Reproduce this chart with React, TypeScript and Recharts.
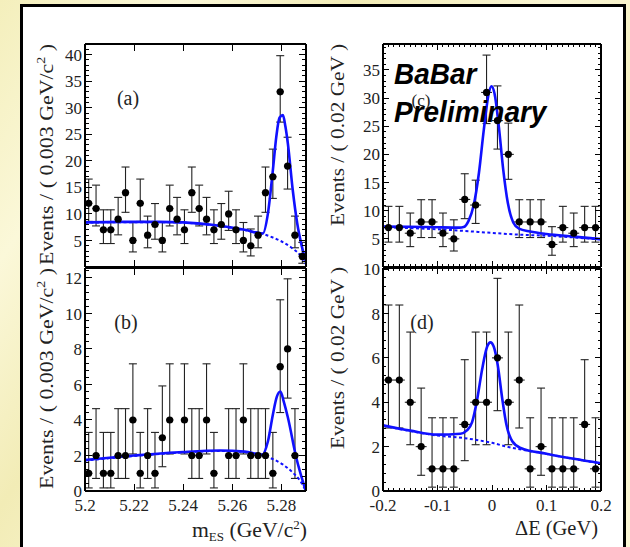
import React from "react";
import { ComposedChart, XAxis, YAxis, Line, Scatter, ErrorBar } from "recharts";

const SERIF = "'Liberation Serif', 'Times New Roman', serif";
const SANS = "'Liberation Sans', Arial, sans-serif";
const BLUE = "#1010ff";

// bin grids
const MES_START = 5.2015;
const MES_STEP = 0.003;
const DE_START = -0.19;
const DE_STEP = 0.02;

// events per bin
const countsA = [12, 11, 7, 7, 9, 14, 5, 12, 6, 8, 5, 11, 9, 7, 14, 11, 9, 7, 8, 10, 7, 5, 4, 6, 14, 17, 33, 19, 6, 2];
const countsB = [1, 2, 1, 1, 2, 2, 4, 1, 2, 1, 3, 4, 0, 4, 2, 2, 4, 1, 0, 2, 2, 4, 2, 2, 2, 1, 7, 8, 2, 0];
const countsC = [7, 7, 6, 8, 8, 6, 5, 12, 11, 31, 26, 20, 8, 8, 8, 4, 7, 6, 7, 7];
const countsD = [5, 5, 4, 2, 1, 1, 1, 3, 4, 4, 6, 4, 5, 1, 2, 1, 1, 1, 3, 1];

// 68% poisson intervals (as drawn by RooFit), looked up by count
const poisN = [1, 2, 3, 4, 5, 6, 7, 8, 9, 10, 11, 12, 14, 17, 19, 20, 26, 31, 33];
const poisLo = [0.173, 0.708, 1.367, 2.086, 2.84, 3.62, 4.419, 5.232, 6.057, 6.891, 7.734, 8.585, 10.3, 12.92, 14.68, 15.57, 20.94, 25.47, 27.29];
const poisHi = [3.3, 4.638, 5.918, 7.163, 8.382, 9.584, 10.77, 11.95, 13.11, 14.27, 15.42, 16.56, 18.83, 22.2, 24.44, 25.55, 32.16, 37.63, 39.8];

// fit curves (total = solid, background = dashed)
const aTotX = [5.2, 5.215, 5.23, 5.24, 5.2525, 5.265, 5.2724, 5.2745, 5.2765, 5.2779, 5.2792, 5.2806, 5.2816, 5.2826, 5.2846, 5.2864, 5.288, 5.2898];
const aTotY = [8.4, 8.5, 8.5, 8.4, 7.9, 7.0, 6.3, 10.1, 18.2, 24.5, 28.1, 28.6, 26.5, 23.3, 14.5, 8.3, 4.5, 1.2];
const aBkgX = [5.2, 5.215, 5.23, 5.24, 5.2525, 5.265, 5.2724, 5.2765, 5.2805, 5.2845, 5.2875, 5.2898];
const aBkgY = [8.35, 8.45, 8.45, 8.35, 7.85, 6.95, 6.25, 5.55, 4.7, 3.5, 2.3, 0.6];

const bTotX = [5.2, 5.22, 5.24, 5.255, 5.265, 5.2722, 5.2745, 5.2765, 5.2781, 5.2796, 5.281, 5.2826, 5.286, 5.2898];
const bTotY = [1.75, 2.0, 2.2, 2.28, 2.22, 2.05, 2.8, 4.3, 5.3, 5.6, 5.0, 4.15, 1.9, 0.05];
const bBkgX = [5.2, 5.22, 5.24, 5.255, 5.265, 5.2722, 5.2765, 5.2805, 5.2845, 5.2875, 5.2898];
const bBkgY = [1.72, 1.97, 2.17, 2.25, 2.19, 2.0, 1.8, 1.5, 1.05, 0.6, 0.05];

const cTotX = [-0.2, -0.15, -0.1, -0.06, -0.052, -0.043, -0.0335, -0.024, -0.015, -0.006, -0.001, 0.0046, 0.0126, 0.0206, 0.029, 0.039, 0.0495, 0.07, 0.1, 0.15, 0.2];
const cTotY = [7.2, 7.15, 7.05, 7.0, 7.1, 8.2, 11.0, 16.7, 24.4, 30.8, 32.1, 30.8, 24.9, 17.3, 11.4, 7.9, 6.8, 6.3, 5.85, 5.4, 4.95];
const cBkgX = [-0.2, -0.1, -0.05, 0, 0.05, 0.1, 0.15, 0.2];
const cBkgY = [7.05, 6.7, 6.4, 6.05, 5.75, 5.55, 5.25, 4.9];

const dTotX = [-0.2, -0.15, -0.1, -0.058, -0.046, -0.0365, -0.027, -0.018, -0.009, -0.0028, 0.0033, 0.0107, 0.0188, 0.0267, 0.0372, 0.0525, 0.1, 0.15, 0.2];
const dTotY = [2.96, 2.72, 2.54, 2.58, 2.73, 3.1, 4.16, 5.5, 6.5, 6.7, 6.5, 5.65, 4.16, 2.96, 2.24, 1.94, 1.68, 1.45, 1.25];
const dBkgX = [-0.2, -0.15, -0.1, -0.05, 0, 0.03, 0.065, 0.1, 0.15, 0.2];
const dBkgY = [2.95, 2.7, 2.5, 2.38, 2.17, 1.98, 1.82, 1.67, 1.45, 1.24];

// axis ticks
const mesMajor = [5.2, 5.22, 5.24, 5.26, 5.28];
const deMajor = [-0.2, -0.1, 0, 0.1, 0.2];
const yMajorA = [5, 10, 15, 20, 25, 30, 35, 40];
const yMajorB = [0, 2, 4, 6, 8, 10, 12];
const yMajorC = [5, 10, 15, 20, 25, 30, 35];
const yMajorD = [0, 2, 4, 6, 8, 10];

type Pt = { x: number; y: number; ey: number[]; ex: number };
type CPt = { x: number; y: number };

const steps = (from: number, to: number, step: number) => {
  const out: number[] = [];
  for (let v = from; v <= to + 1e-9; v += step) out.push(+v.toFixed(4));
  return out;
};

const toPoints = (counts: number[], start: number, step: number): Pt[] =>
  counts.flatMap((n, i) => {
    if (n === 0) return [];
    const k = poisN.indexOf(n);
    return [{ x: +(start + step * i).toFixed(4), y: n, ey: [n - poisLo[k], poisHi[k] - n], ex: step / 2 }];
  });

const zip = (xs: number[], ys: number[]): CPt[] => xs.map((x, i) => ({ x, y: ys[i] }));

const near = (arr: number[], v: number) => arr.some((m) => Math.abs(m - v) < 1e-7);

type Side = "left" | "right" | "top" | "bottom";

function makeTick(side: Side, majors: number[], labels: number[], fmt: (v: number) => string, majLen: number, minLen: number) {
  return (props: any) => {
    const { x, y, payload } = props;
    const v = payload.value;
    const len = near(majors, v) ? majLen : minLen;
    let x2 = x;
    let y2 = y;
    if (side === "left") x2 = x + len;
    if (side === "right") x2 = x - len;
    if (side === "bottom") y2 = y - len;
    if (side === "top") y2 = y + len;
    const show = near(labels, v);
    return (
      <g>
        <line x1={x} y1={y} x2={x2} y2={y2} stroke="#000" strokeWidth={1} shapeRendering="crispEdges" />
        {show && side === "left" && (
          <text x={x - 3} y={y} dy="0.36em" textAnchor="end" fontSize={17} fill="#222" fontFamily={SERIF}>
            {fmt(v)}
          </text>
        )}
        {show && side === "bottom" && (
          <text x={x} y={y + 20} textAnchor="middle" fontSize={17} fill="#222" fontFamily={SERIF}>
            {fmt(v)}
          </text>
        )}
      </g>
    );
  };
}

const Dot = (p: any) => <circle cx={p.cx} cy={p.cy} r={3.6} fill="#000" />;

type PanelProps = {
  left: number;
  top: number;
  w: number;
  h: number;
  xDomain: [number, number];
  yDomain: [number, number];
  xMajor: number[];
  xMinor: number[];
  yMajor: number[];
  yMinor: number[];
  xLabels: number[];
  yLabels: number[];
  xFmt: (v: number) => string;
  points: Pt[];
  total: CPt[];
  bkg: CPt[];
  majLen: number;
  minLen: number;
};

function Panel(p: PanelProps) {
  // outer space around the plot box; each axis takes 1px of it
  const ML = 50, MT = 10, MR = 12, MB = 40;
  const xTicks = [...p.xMajor, ...p.xMinor];
  const yTicks = [...p.yMajor, ...p.yMinor];
  const yFmt = (v: number) => String(v);
  const axisCommon = {
    type: "number" as const,
    allowDataOverflow: true,
    interval: 0 as const,
    tickSize: 0,
    tickMargin: 0,
    tickLine: false,
    axisLine: { stroke: "#000", strokeWidth: 1.3, shapeRendering: "crispEdges" },
  };
  return (
    <div style={{ position: "absolute", left: p.left - ML, top: p.top - MT }}>
      <ComposedChart
        width={p.w + ML + MR}
        height={p.h + MT + MB}
        margin={{ top: MT - 1, right: MR - 1, bottom: MB - 1, left: ML - 1 }}
      >
        <XAxis {...axisCommon} xAxisId="b" orientation="bottom" dataKey="x" domain={p.xDomain} ticks={xTicks} height={1}
          tick={makeTick("bottom", p.xMajor, p.xLabels, p.xFmt, p.majLen, p.minLen)} />
        <XAxis {...axisCommon} xAxisId="t" orientation="top" dataKey="x" domain={p.xDomain} ticks={xTicks} height={1}
          tick={makeTick("top", p.xMajor, [], p.xFmt, p.majLen, p.minLen)} />
        <YAxis {...axisCommon} yAxisId="l" orientation="left" dataKey="y" domain={p.yDomain} ticks={yTicks} width={1}
          tick={makeTick("left", p.yMajor, p.yLabels, yFmt, p.majLen, p.minLen)} />
        <YAxis {...axisCommon} yAxisId="r" orientation="right" dataKey="y" domain={p.yDomain} ticks={yTicks} width={1}
          tick={makeTick("right", p.yMajor, [], yFmt, p.majLen, p.minLen)} />
        <Scatter xAxisId="b" yAxisId="l" data={p.points} shape={Dot} isAnimationActive={false}>
          <ErrorBar dataKey="ey" direction="y" width={4} stroke="#222" strokeWidth={1.1} />
          <ErrorBar dataKey="ex" direction="x" width={0} stroke="#222" strokeWidth={1.1} />
        </Scatter>
        <Line xAxisId="b" yAxisId="l" data={p.bkg} dataKey="y" type="monotone" stroke={BLUE} strokeWidth={2}
          strokeDasharray="3 2.5" dot={false} activeDot={false} isAnimationActive={false} />
        <Line xAxisId="b" yAxisId="l" data={p.total} dataKey="y" type="monotone" stroke={BLUE} strokeWidth={2.6}
          dot={false} activeDot={false} isAnimationActive={false} />
      </ComposedChart>
    </div>
  );
}

const mesFmt = (v: number) => String(v);
const deFmt = (v: number) => String(v);

export default function App() {
  const mesMinor: number[] = [];
  const deMinor = steps(-0.2, 0.2, 0.01).filter((v) => !near(deMajor, v));
  const minorA = steps(0, 42, 1).filter((v) => !near(yMajorA, v));
  const minorB = steps(0, 12.4, 0.4).filter((v) => !near(yMajorB, v));
  const minorC = steps(0, 39, 1).filter((v) => !near(yMajorC, v));
  const minorD = steps(0, 10, 0.4).filter((v) => !near(yMajorD, v));

  return (
    <div
      style={{
        position: "absolute",
        left: 0,
        top: 0,
        width: 630,
        height: 547,
        overflow: "hidden",
        background:
          "linear-gradient(125deg, #f4efbc 0%, #fbf8d9 18%, #f2ecb6 35%, #faf6d4 55%, #f3edb9 75%, #fbf7d6 100%)",
      }}
    >
      <div
        style={{
          position: "absolute",
          left: 20,
          top: 4,
          width: 600,
          height: 560,
          background: "#fff",
          border: "3px solid #000",
        }}
      />
      <Panel left={85} top={44} w={221} h={223} xDomain={[5.2, 5.29]} yDomain={[0, 42]}
        xMajor={mesMajor} xMinor={mesMinor} yMajor={yMajorA} yMinor={minorA} xLabels={[]} yLabels={yMajorA}
        xFmt={mesFmt} points={toPoints(countsA, MES_START, MES_STEP)} total={zip(aTotX, aTotY)} bkg={zip(aBkgX, aBkgY)}
        majLen={7} minLen={4} />
      <Panel left={85} top={268} w={221} h={223} xDomain={[5.2, 5.29]} yDomain={[0, 12.56]}
        xMajor={mesMajor} xMinor={mesMinor} yMajor={yMajorB} yMinor={minorB} xLabels={mesMajor} yLabels={yMajorB}
        xFmt={mesFmt} points={toPoints(countsB, MES_START, MES_STEP)} total={zip(bTotX, bTotY)} bkg={zip(bBkgX, bBkgY)}
        majLen={7} minLen={4} />
      <Panel left={383} top={44} w={218} h={223} xDomain={[-0.2, 0.2]} yDomain={[0, 39.6]}
        xMajor={deMajor} xMinor={deMinor} yMajor={yMajorC} yMinor={minorC} xLabels={[]} yLabels={yMajorC}
        xFmt={deFmt} points={toPoints(countsC, DE_START, DE_STEP)} total={zip(cTotX, cTotY)} bkg={zip(cBkgX, cBkgY)}
        majLen={6} minLen={3} />
      <Panel left={383} top={268} w={218} h={223} xDomain={[-0.2, 0.2]} yDomain={[0, 10.05]}
        xMajor={deMajor} xMinor={deMinor} yMajor={yMajorD} yMinor={minorD} xLabels={deMajor} yLabels={yMajorD}
        xFmt={deFmt} points={toPoints(countsD, DE_START, DE_STEP)} total={zip(dTotX, dTotY)} bkg={zip(dBkgX, dBkgY)}
        majLen={6} minLen={3} />

      <svg width={630} height={547} style={{ position: "absolute", left: 0, top: 0, pointerEvents: "none" }}>
        <g fontFamily={SERIF} fill="#222">
          <text transform="translate(52.5,265) rotate(-90)" fontSize={19} textLength={221} lengthAdjust="spacingAndGlyphs">
            Events / ( 0.003 GeV/c<tspan fontSize={12} dy={-8}>2</tspan><tspan dy={8}> )</tspan>
          </text>
          <text transform="translate(52.5,489) rotate(-90)" fontSize={19} textLength={221} lengthAdjust="spacingAndGlyphs">
            Events / ( 0.003 GeV/c<tspan fontSize={12} dy={-8}>2</tspan><tspan dy={8}> )</tspan>
          </text>
          <text transform="translate(343.5,226) rotate(-90)" fontSize={18.5} textLength={182} lengthAdjust="spacingAndGlyphs">
            Events / ( 0.02 GeV )
          </text>
          <text transform="translate(343.5,449) rotate(-90)" fontSize={18.5} textLength={182} lengthAdjust="spacingAndGlyphs">
            Events / ( 0.02 GeV )
          </text>
          <text x={192} y={537} fontSize={20} textLength={115} lengthAdjust="spacingAndGlyphs">
            m<tspan fontSize={12} dy={4}>ES</tspan><tspan dy={-4}> (GeV/c</tspan><tspan fontSize={12} dy={-8}>2</tspan><tspan dy={8}>)</tspan>
          </text>
          <text x={515} y={535} fontSize={20} textLength={83} lengthAdjust="spacingAndGlyphs">
            ΔE (GeV)
          </text>
          <text x={128} y={105} fontSize={20} textAnchor="middle">(a)</text>
          <text x={126} y={329} fontSize={20} textAnchor="middle">(b)</text>
          <text x={421} y={106} fontSize={17} textAnchor="middle">(c)</text>
          <text x={422} y={329} fontSize={20} textAnchor="middle">(d)</text>
        </g>
        <g fontFamily={SANS} fontWeight="bold" fontStyle="italic" fill="#000" fontSize={28}>
          <text transform="translate(394,84) scale(1,1.08)">BaBar</text>
          <text transform="translate(394,122) scale(1,1.08)">Preliminary</text>
        </g>
      </svg>
    </div>
  );
}
